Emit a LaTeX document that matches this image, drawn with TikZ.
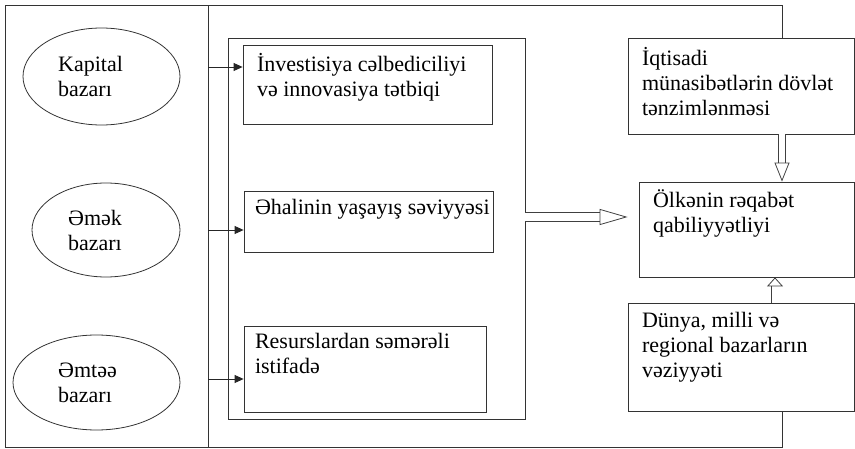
\documentclass[tikz,border=0pt]{standalone}
\usepackage{fontspec}
\setmainfont{Liberation Serif}
\usetikzlibrary{shapes.geometric,arrows.meta}
\newcommand{\yazifont}{\fontsize{22}{25}\selectfont}
\begin{document}
\begin{tikzpicture}[x=1pt,y=-1pt,line width=0.8pt,
	fr/.style={draw=black!80, inner sep=0pt},
	bazar/.style={fr, ellipse},
	kutu/.style={fr, rectangle},
	yazi/.style={anchor=north west, inner sep=0pt, align=left, font=\yazifont, execute at begin node={\rule{0pt}{20pt}}},
	etxt/.style={inner sep=0pt, align=left, font=\yazifont},
	ox/.style={draw=black!85, -{Triangle[length=9pt,width=8pt]}},
	dbl/.style n args={3}{draw=black!75, double=white, double distance=#1, -{Triangle[open,length=#2,width=#3,line width=0.8pt]}}]
	\useasboundingbox (0,0) rectangle (855,449);
	\draw[fr] (5,5) rectangle (208,447);
	\node[bazar, minimum width=157pt, minimum height=97pt] (kap) at (101.5,76.5) {};
	\node[bazar, minimum width=148pt, minimum height=94pt] (emek) at (106,230) {};
	\node[bazar, minimum width=167pt, minimum height=95pt] (emtee) at (96.5,382.5) {};
	\node[etxt] (kapT) at ([xshift=-11pt]kap.center) {Kapital\\bazarı};
	\node[etxt] (emekT) at ([xshift=-11pt]emek.center) {Əmək\\bazarı};
	\node[etxt] (emteeT) at ([xshift=-9pt]emtee.center) {Əmtəə\\bazarı};
	\node[kutu, minimum width=297pt, minimum height=381pt] (orta) at (376.5,228.5) {};
	\node[kutu, minimum width=249pt, minimum height=79pt] (inv) at (367.5,84.5) {};
	\node[kutu, minimum width=249pt, minimum height=61pt] (eha) at (368.5,221.5) {};
	\node[kutu, minimum width=242pt, minimum height=86pt] (res) at (365,369) {};
	\node[kutu, minimum width=226pt, minimum height=96pt] (iq) at (741,86) {};
	\node[kutu, minimum width=215pt, minimum height=95pt] (ol) at (746.5,229.5) {};
	\node[kutu, minimum width=226pt, minimum height=108pt] (dun) at (741,357) {};
	\node[yazi] (invT) at ([shift={(14,8)}]inv.north west) {İnvestisiya cəlbediciliyi\\və innovasiya tətbiqi};
	\node[yazi] (ehaT) at ([shift={(11,4)}]eha.north west) {Əhalinin yaşayış səviyyəsi};
	\node[yazi] (resT) at ([shift={(11,7)}]res.north west) {Resurslardan səmərəli\\istifadə};
	\node[yazi] (iqT) at ([shift={(14,9)}]iq.north west) {İqtisadi\\münasibətlərin dövlət\\tənzimlənməsi};
	\node[yazi] (olT) at ([shift={(14,8)}]ol.north west) {Ölkənin rəqabət\\qabiliyyətliyi};
	\node[yazi] (dunT) at ([shift={(14,9)}]dun.north west) {Dünya, milli və\\regional bazarların\\vəziyyəti};
	\draw[fr] (208,5) -| ([xshift=41pt]iq.north);
	\draw[fr] ([xshift=41pt]dun.south) |- (208,447);
	\coordinate (d1) at (208,67);
	\coordinate (d2) at (208,230);
	\coordinate (d3) at (208,379);
	\draw[ox] (d1) -- (inv.west |- d1);
	\draw[ox] (d2) -- (eha.west |- d2);
	\draw[ox] (d3) -- (res.west |- d3);
	\draw[dbl={8pt}{28pt}{16pt}] ([yshift=11.5pt]orta.east) -- ([xshift=-11pt,yshift=12.5pt]ol.west);
	\draw[dbl={6.5pt}{19pt}{15pt}] ([xshift=41pt]iq.south) -- ([xshift=35.5pt]ol.north);
	\draw[dbl={7pt}{9pt}{16pt}] ([xshift=34pt]dun.north) -- ([xshift=28.5pt]ol.south);
\end{tikzpicture}
\end{document}
